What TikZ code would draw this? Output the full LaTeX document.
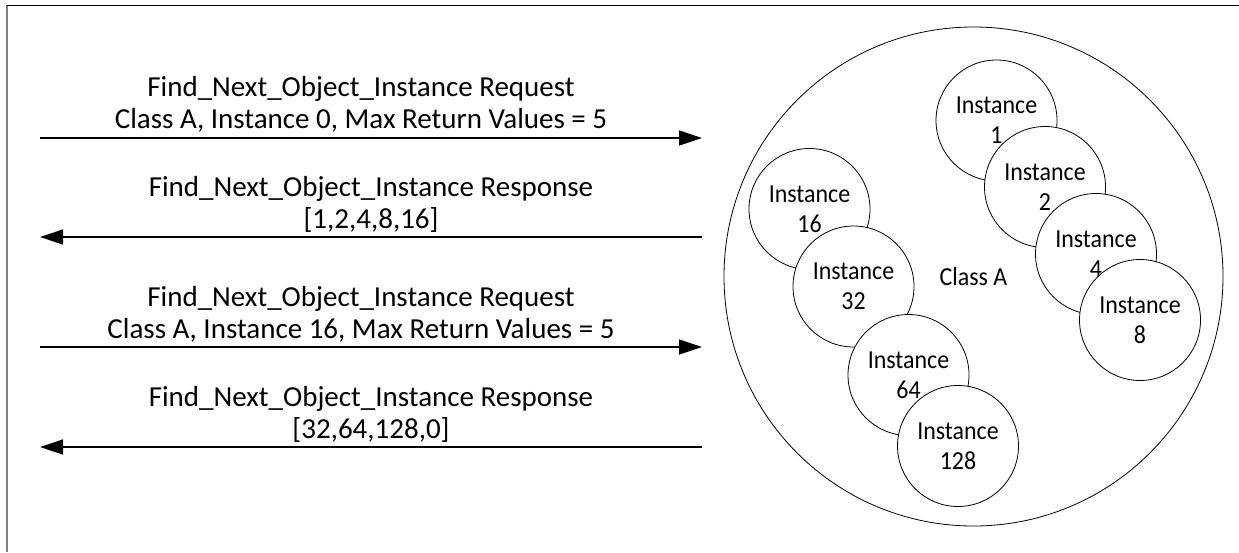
\documentclass[tikz,border=0pt]{standalone}
\usepackage{fontspec}
\setmainfont{Carlito}
\newfontfamily\instfont[FakeStretch=0.92]{Carlito}
\usetikzlibrary{arrows.meta}

\begin{document}
\begin{tikzpicture}[x=1pt, y=-1pt,
        msg/.style={align=center, inner sep=0pt, anchor=base, font=\fontsize{29}{32}\selectfont},
        inst/.style={draw, circle, fill=white, minimum size=121pt, inner sep=0pt, align=center, line width=0.8pt, font=\instfont\fontsize{26}{30}\selectfont},
        flow/.style={line width=1.3pt, -{Triangle[length=23pt, width=15pt]}}]
        \useasboundingbox (0,0) rectangle (1239,552);

        % frame
        \draw[gray, line width=1.5pt] (7,5) -- (7,552);
        \draw[line width=0.8pt] (7,5) -- (1239,5);

        % class with its instances
        \node[draw, circle, minimum size=499pt, inner sep=0pt, line width=0.8pt, font=\instfont\fontsize{26}{30}\selectfont] (classA) at (973.5,276.5) {Class A};
        \node[inst] (i1) at (996.5,120.5) {Instance\\1};
        \node[inst] (i2) at (1045,187) {Instance\\2};
        \node[inst] (i4) at (1096,254) {Instance\\4};
        \node[inst] (i8) at (1140,320) {Instance\\8};
        \node[inst] (i16) at (809.5,209) {Instance\\16};
        \node[inst] (i32) at (853.5,286.5) {Instance\\32};
        \node[inst] (i64) at (908.5,375) {Instance\\64};
        \node[inst] (i128) at (958,446) {Instance\\128};

        % messages (base = last line)
        \node[msg] (req1) at (361,128) {Find\_Next\_Object\_Instance Request\\Class A, Instance 0, Max Return Values = 5};
        \node[msg] (resp1) at (371,228) {Find\_Next\_Object\_Instance Response\\{[1,2,4,8,16]}};
        \node[msg] (req2) at (361,338) {Find\_Next\_Object\_Instance Request\\Class A, Instance 16, Max Return Values = 5};
        \node[msg] (resp2) at (371,438) {Find\_Next\_Object\_Instance Response\\{[32,64,128,0]}};

        \coordinate (l1) at (40,138);
        \coordinate (r1) at (702,138);
        \coordinate (l2) at (40,237);
        \coordinate (r2) at (702,237);
        \coordinate (l3) at (40,347);
        \coordinate (r3) at (702,347);
        \coordinate (l4) at (40,447);
        \coordinate (r4) at (702,447);

        \draw[flow] (l1) -- (r1);
        \draw[flow] (r2) -- (l2);
        \draw[flow] (l3) -- (r3);
        \draw[flow] (r4) -- (l4);
    \end{tikzpicture}
\end{document}
